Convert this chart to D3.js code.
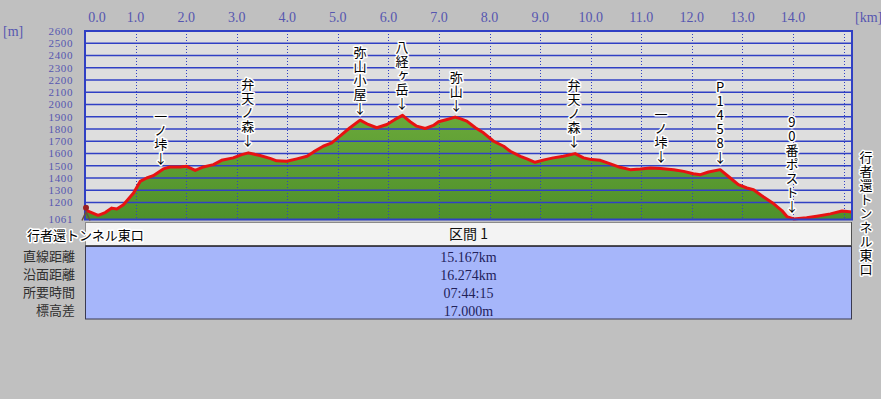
<!DOCTYPE html>
<html>
<head>
<meta charset="utf-8">
<script src="https://cdn.jsdelivr.net/npm/d3@7"></script>
<style>
  body { margin: 0; background: #c0c0c0; }
  svg { display: block; }
  .vert { writing-mode: vertical-rl; text-orientation: upright; }
</style>
</head>
<body>
<div id="vis"></div>
<script>
// --- datos del perfil (distancia km / altitud m) ---
const distKm = [0.00, 0.26, 0.40, 0.53, 0.63, 0.76, 0.96, 1.09, 1.22, 1.35, 1.55, 1.68, 1.88, 2.01, 2.18, 2.34, 2.54, 2.70, 2.93, 3.10,
  3.23, 3.46, 3.66, 3.79, 3.99, 4.19, 4.39, 4.52, 4.71, 4.88, 5.04, 5.24, 5.44, 5.60, 5.77, 5.97, 6.13, 6.28, 6.43, 6.56,
  6.73, 6.89, 6.99, 7.16, 7.32, 7.42, 7.55, 7.72, 7.88, 8.08, 8.28, 8.41, 8.61, 8.74, 8.90, 9.10, 9.26, 9.46, 9.69, 9.86,
  10.02, 10.19, 10.39, 10.58, 10.78, 10.98, 11.18, 11.38, 11.64, 11.84, 12.03, 12.17, 12.33, 12.56, 12.76, 12.92, 13.09, 13.22, 13.42, 13.62,
  13.78, 13.88, 14.01, 14.27, 14.47, 14.74, 14.97, 15.167];
const elevM = [1140, 1095, 1118, 1154, 1146, 1181, 1277, 1372, 1400, 1419, 1474, 1490, 1490, 1495, 1462, 1490, 1509, 1544, 1564, 1591,
  1605, 1583, 1560, 1540, 1536, 1556, 1577, 1613, 1659, 1687, 1741, 1810, 1872, 1837, 1810, 1837, 1878, 1911, 1859, 1823,
  1804, 1829, 1859, 1878, 1897, 1885, 1864, 1810, 1769, 1700, 1659, 1618, 1577, 1556, 1528, 1550, 1564, 1577, 1599, 1564,
  1550, 1544, 1515, 1487, 1468, 1474, 1482, 1478, 1468, 1454, 1435, 1427, 1449, 1468, 1400, 1345, 1318, 1304, 1244, 1189,
  1134, 1085, 1066, 1075, 1088, 1107, 1130, 1123];

const xTickVals = [0, 1, 2, 3, 4, 5, 6, 7, 8, 9, 10, 11, 12, 13, 14];
const xGridVals = [1, 2, 3, 4, 5, 6, 7, 8, 9, 10, 11, 12, 13, 14, 15];
const yTickVals = [1061, 1200, 1300, 1400, 1500, 1600, 1700, 1800, 1900, 2000, 2100, 2200, 2300, 2400, 2500, 2600];

const puntosNombre = ["一ノ垰", "弁天ノ森", "弥山小屋", "八経ヶ岳", "弥山", "弁天ノ森", "一ノ垰", "P1458", "90番ポスト"];
const puntosKm = [1.50, 3.22, 5.44, 6.27, 7.34, 9.67, 11.39, 12.56, 13.98];

const inicioNombre = "行者還トンネル東口";
const finNombre = "行者還トンネル東口";

const filasNombre = ["直線距離", "沿面距離", "所要時間", "標高差"];
const filasValor = ["15.167km", "16.274km", "07:44:15", "17.000m"];
const tramoTitulo = "区間 1";

// --- layout ---
const WIDTH = 881;
const HEIGHT = 399;
const X0 = 85, X1 = 852, Y0 = 31, Y1 = 219.5;

const SVG = d3.select("#vis").append("svg").attr("width", WIDTH).attr("height", HEIGHT);
SVG.append("rect").attr("width", WIDTH).attr("height", HEIGHT).attr("fill", "#c0c0c0");

const x = d3.scaleLinear().domain([0, 15.167]).range([X0, X1]);
const y = d3.scaleLinear().domain([1061, 2600]).range([Y1, Y0]);

const JP = "'Noto Sans CJK JP', sans-serif";
const SERIF = "'Liberation Serif', 'DejaVu Serif', serif";
const AZUL = "#3040c4";
const AZUL_TXT = "#5656b0";

const defs = SVG.append("defs");
const grad = defs.append("linearGradient").attr("id", "verde").attr("x1", 0).attr("y1", 0).attr("x2", 0).attr("y2", 1);
grad.append("stop").attr("offset", "0%").attr("stop-color", "#6aa83a");
grad.append("stop").attr("offset", "100%").attr("stop-color", "#4e902a");

// fondo del grafico
SVG.append("rect").attr("x", X0).attr("y", Y0).attr("width", X1 - X0).attr("height", Y1 - Y0).attr("fill", "#dedede");

const datos = distKm.map((d, i) => ({ km: d, m: elevM[i] }));

// area verde
const area = d3.area().x(d => x(d.km)).y0(Y1).y1(d => y(d.m));
SVG.append("path").datum(datos).attr("d", area).attr("fill", "url(#verde)");

// lineas horizontales
SVG.append("g").selectAll("line").data(yTickVals.filter(v => v > 1061 && v < 2600)).join("line")
  .attr("x1", X0).attr("x2", X1).attr("y1", d => y(d)).attr("y2", d => y(d))
  .attr("stroke", AZUL).attr("stroke-width", 1.5);

// lineas verticales punteadas
SVG.append("g").selectAll("line").data(xGridVals).join("line")
  .attr("x1", d => Math.round(x(d)) + 0.5).attr("x2", d => Math.round(x(d)) + 0.5)
  .attr("y1", Y0).attr("y2", Y1)
  .attr("stroke", AZUL).attr("stroke-width", 1).attr("stroke-dasharray", "1,2");

// linea roja del perfil
const linea = d3.line().x(d => x(d.km)).y(d => y(d.m));
SVG.append("path").datum(datos).attr("d", linea).attr("fill", "none")
  .attr("stroke", "#e81212").attr("stroke-width", 3).attr("stroke-linejoin", "round");

// marco
SVG.append("rect").attr("x", X0).attr("y", Y0).attr("width", X1 - X0).attr("height", Y1 - Y0)
  .attr("fill", "none").attr("stroke", AZUL).attr("stroke-width", 2);

// etiquetas eje y
SVG.append("g").selectAll("text").data(yTickVals).join("text")
  .attr("x", 73).attr("y", d => y(d)).attr("dy", "0.36em").attr("text-anchor", "end")
  .attr("font-family", SERIF).attr("font-size", "11px").attr("letter-spacing", "0.6px").attr("fill", AZUL_TXT)
  .text(d => d);
SVG.append("text").attr("x", 3).attr("y", 36).attr("font-family", SERIF).attr("font-size", "14px")
  .attr("fill", AZUL_TXT).text("[m]");

// etiquetas eje x
SVG.append("g").selectAll("text").data(xTickVals).join("text")
  .attr("x", d => Math.max(x(d), 97)).attr("y", 22).attr("text-anchor", "middle")
  .attr("font-family", SERIF).attr("font-size", "14px").attr("fill", AZUL_TXT)
  .text(d => d.toFixed(1));
SVG.append("text").attr("x", 855).attr("y", 22).attr("font-family", SERIF).attr("font-size", "14px")
  .attr("fill", AZUL_TXT).text("[km]");

// marcador de inicio
SVG.append("circle").attr("cx", x(0) + 1).attr("cy", y(elevM[0]) - 2).attr("r", 3).attr("fill", "#9a2020");
SVG.append("path").attr("d", `M${x(0) - 3},${Y1 + 1} L${x(0) + 1},${y(elevM[0]) + 2} L${x(0) + 5},${Y1 + 1}`)
  .attr("fill", "none").attr("stroke", "#6a5040").attr("stroke-width", 1.5);

// texto vertical con halo blanco (un solo elemento de texto)
const interp = km => {
  const i = d3.bisector(d => d).right(distKm, km);
  const a = Math.max(0, i - 1), b = Math.min(distKm.length - 1, i);
  if (a === b) return elevM[a];
  const t = (km - distKm[a]) / (distKm[b] - distKm[a]);
  return elevM[a] + t * (elevM[b] - elevM[a]);
};

function textoVertical(g, txt, cx, yPos, anchor) {
  return g.append("text").attr("class", "vert")
    .attr("x", cx).attr("y", yPos).attr("text-anchor", anchor)
    .attr("font-family", JP).attr("font-size", "13px").attr("letter-spacing", "1px").attr("fill", "#000")
    .attr("stroke", "#fff").attr("stroke-width", 3).attr("paint-order", "stroke").attr("stroke-linejoin", "round")
    .text(txt);
}

const gPuntos = SVG.append("g");
puntosNombre.forEach((n, i) => {
  const cx = x(puntosKm[i]);
  const yp = y(interp(puntosKm[i]));
  textoVertical(gPuntos, n + "↓", cx, yp - 5, "end");
});

// tabla
SVG.append("rect").attr("x", X0 + 0.5).attr("y", 222.5).attr("width", X1 - X0 - 1).attr("height", 23)
  .attr("fill", "#f3f3f3").attr("stroke", "#8a8a8a");
SVG.append("line").attr("x1", X0).attr("x2", X1).attr("y1", 245.5).attr("y2", 245.5).attr("stroke", "#505050");
SVG.append("line").attr("x1", X1 - 0.5).attr("x2", X1 - 0.5).attr("y1", 222).attr("y2", 246).attr("stroke", "#505050");
SVG.append("text").attr("x", (X0 + X1) / 2).attr("y", 234).attr("dy", "0.36em").attr("text-anchor", "middle")
  .attr("font-family", JP).attr("font-size", "14px").attr("fill", "#111").text(tramoTitulo);

SVG.append("rect").attr("x", X0 + 0.5).attr("y", 246.5).attr("width", X1 - X0 - 1).attr("height", 72.5)
  .attr("fill", "#a6b6fa").attr("stroke", "#3a3a50");

const filaY = d3.scalePoint().domain(filasNombre).range([256.5, 310.5]);
SVG.append("g").selectAll("text").data(filasNombre).join("text")
  .attr("x", 75).attr("y", d => filaY(d)).attr("dy", "0.36em").attr("text-anchor", "end")
  .attr("font-family", JP).attr("font-size", "13px").attr("fill", "#303030").text(d => d);
SVG.append("g").selectAll("text").data(filasValor).join("text")
  .attr("x", (X0 + X1) / 2).attr("y", (d, i) => filaY(filasNombre[i])).attr("dy", "0.36em").attr("text-anchor", "middle")
  .attr("font-family", SERIF).attr("font-size", "14px").attr("fill", "#22225a").text(d => d);

// nombre de inicio (horizontal) y fin (vertical)
SVG.append("text").attr("x", 27).attr("y", 235).attr("dy", "0.36em")
  .attr("font-family", JP).attr("font-size", "13px").attr("fill", "#000")
  .attr("stroke", "#fff").attr("stroke-width", 3).attr("paint-order", "stroke").attr("stroke-linejoin", "round")
  .text(inicioNombre);
textoVertical(SVG.append("g"), finNombre, 866, 151, "start");
</script>
</body>
</html>
